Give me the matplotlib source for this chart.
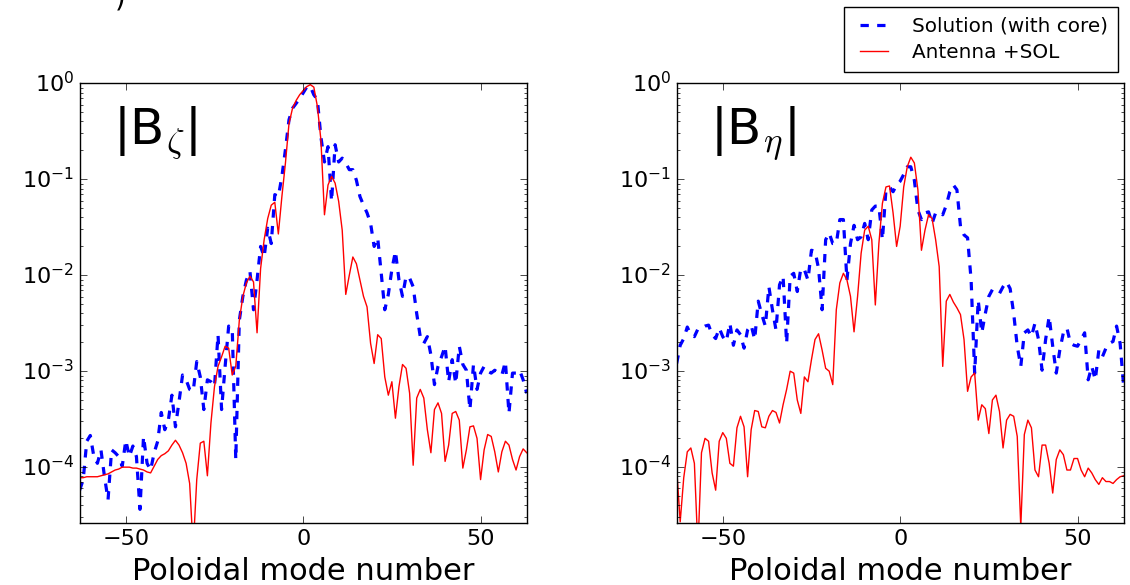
import numpy as np
import matplotlib
matplotlib.use("Agg")
import matplotlib.pyplot as plt

plt.style.use("classic")
plt.rcParams["figure.facecolor"] = "white"
plt.rcParams["savefig.facecolor"] = "white"
plt.rcParams["mathtext.fontset"] = "cm"

# Poloidal mode numbers
modes = np.arange(-63, 64)

# log10 of |B_zeta| spectrum, full solution with core
core_zeta_log = [
    -4.24, -4.13, -3.73, -3.67, -3.89, -3.96, -3.82, -4.10, -4.34, -3.82,
    -3.85, -3.89, -3.99, -3.72, -3.89, -3.78, -3.89, -4.44, -3.68, -3.96,
    -4.03, -3.85, -3.73, -3.43, -3.61, -3.51, -3.25, -3.58, -3.32, -3.04,
    -3.09, -3.19, -3.21, -2.90, -3.06, -3.40, -3.09, -3.11, -3.16, -2.62,
    -3.40, -2.95, -2.53, -2.55, -3.92, -2.47, -2.22, -2.05, -1.96, -2.36,
    -2.05, -1.70, -1.81, -1.51, -1.67, -1.16, -1.18, -0.97, -0.69, -0.38,
    -0.26, -0.21, -0.16, -0.10, -0.04, -0.03, -0.12, -0.17, -0.56, -0.82,
    -0.66, -1.23, -0.64, -0.82, -0.78, -0.83, -0.90, -0.90, -1.01, -1.18,
    -1.27, -1.35, -1.46, -1.70, -1.61, -1.98, -2.36, -2.20, -1.94, -1.75,
    -2.05, -2.22, -2.01, -2.03, -2.12, -2.40, -2.64, -2.71, -2.64, -2.83,
    -3.14, -2.95, -2.85, -2.74, -3.11, -2.88, -3.13, -2.74, -2.93, -2.99,
    -3.40, -2.93, -3.19, -3.02, -2.95, -3.00, -3.02, -2.99, -3.02, -3.04,
    -2.90, -3.44, -3.02, -3.02, -2.99, -3.09, -3.23,
]

# log10 of |B_zeta| spectrum, antenna + SOL only
ant_zeta_log = [
    -4.11, -4.11, -4.10, -4.10, -4.10, -4.10, -4.09, -4.08, -4.07, -4.05,
    -4.03, -4.02, -4.00, -4.00, -4.00, -4.01, -4.01, -4.02, -4.03, -4.05,
    -4.06, -3.99, -3.92, -3.88, -3.86, -3.83, -3.77, -3.72, -3.77, -3.85,
    -3.96, -4.17, -4.85, -4.13, -3.75, -3.73, -4.09, -3.54, -3.16, -2.95,
    -2.85, -2.74, -2.76, -3.04, -2.95, -2.47, -2.22, -2.08, -2.01, -2.07,
    -2.60, -1.93, -1.63, -1.41, -1.27, -1.24, -1.57, -1.18, -0.83, -0.42,
    -0.26, -0.18, -0.12, -0.076, -0.035, -0.014, -0.04, -0.24, -0.59, -1.37,
    -1.06, -0.97, -1.04, -1.23, -1.53, -2.20, -2.00, -1.81, -1.88, -2.05,
    -2.22, -2.33, -2.71, -2.92, -2.62, -2.66, -3.06, -3.25, -3.11, -3.49,
    -3.16, -2.93, -2.97, -3.23, -3.98, -3.28, -3.19, -3.28, -3.61, -3.85,
    -3.40, -3.33, -3.44, -3.94, -3.77, -3.44, -3.42, -3.51, -4.01, -3.82,
    -3.58, -3.57, -3.70, -4.13, -3.82, -3.66, -3.68, -3.84, -4.05, -3.84,
    -3.73, -3.77, -3.92, -4.03, -3.89, -3.81, -3.85,
]

# log10 of |B_eta| spectrum, full solution with core
core_eta_log = [
    -2.92, -2.73, -2.66, -2.54, -2.62, -2.64, -2.56, -2.55, -2.53, -2.52,
    -2.62, -2.66, -2.55, -2.64, -2.69, -2.50, -2.73, -2.57, -2.62, -2.76,
    -2.57, -2.52, -2.67, -2.27, -2.41, -2.53, -2.12, -2.36, -2.57, -2.10,
    -2.01, -2.71, -2.01, -1.98, -2.17, -1.93, -1.94, -2.05, -1.74, -1.75,
    -1.93, -2.36, -1.63, -1.56, -1.67, -1.67, -1.42, -1.42, -2.05, -1.67,
    -1.48, -1.63, -1.60, -1.46, -1.63, -1.32, -1.28, -1.28, -1.63, -1.11,
    -1.08, -1.13, -1.06, -1.02, -0.95, -0.87, -0.87, -1.01, -1.32, -1.42,
    -1.35, -1.34, -1.46, -1.35, -1.34, -1.37, -1.27, -1.13, -1.06, -1.11,
    -1.49, -1.58, -1.61, -2.05, -3.02, -2.26, -2.60, -2.40, -2.22, -2.15,
    -2.17, -2.19, -2.12, -2.07, -2.14, -2.40, -2.74, -2.95, -2.60, -2.57,
    -2.64, -2.50, -2.67, -2.99, -2.67, -2.43, -2.74, -3.02, -2.78, -2.60,
    -2.55, -2.71, -2.73, -2.74, -2.67, -2.60, -3.09, -2.95, -3.09, -2.78,
    -2.85, -2.76, -2.71, -2.69, -2.53, -2.71, -3.16,
]

# log10 of |B_eta| spectrum, antenna + SOL only
ant_eta_log = [
    -4.01, -4.57, -4.11, -3.84, -3.80, -3.96, -4.85, -3.85, -3.70, -3.73,
    -4.06, -4.24, -3.73, -3.64, -3.70, -3.96, -3.99, -3.59, -3.47, -3.58,
    -4.10, -3.61, -3.41, -3.42, -3.58, -3.59, -3.47, -3.41, -3.43, -3.54,
    -3.35, -3.19, -3.00, -3.02, -3.30, -3.44, -3.06, -3.11, -2.88, -2.67,
    -2.61, -2.78, -2.97, -3.00, -3.14, -2.36, -2.08, -1.98, -2.05, -2.22,
    -2.59, -2.22, -1.77, -1.53, -1.49, -1.63, -2.31, -1.67, -1.25, -1.08,
    -1.07, -1.35, -1.70, -1.49, -1.08, -0.87, -0.77, -0.83, -1.11, -1.74,
    -1.53, -1.37, -1.41, -1.63, -1.91, -2.95, -2.27, -2.20, -2.28, -2.34,
    -2.41, -2.67, -3.21, -3.06, -3.02, -3.51, -3.35, -3.39, -3.65, -3.30,
    -3.25, -3.42, -3.80, -3.51, -3.45, -3.47, -3.68, -4.62, -3.66, -3.51,
    -3.59, -4.03, -4.10, -3.77, -3.77, -3.96, -4.27, -3.92, -3.82, -3.87,
    -4.03, -4.03, -3.91, -3.91, -4.03, -4.10, -4.01, -4.06, -4.13, -4.18,
    -4.11, -4.15, -4.15, -4.17, -4.13, -4.10, -4.09,
]

panels = [
    (r"$\mathregular{|B}_{\zeta}\mathregular{|}$", core_zeta_log, ant_zeta_log),
    (r"$\mathregular{|B}_{\eta}\mathregular{|}$", core_eta_log, ant_eta_log),
]

fig = plt.figure(figsize=(11.3, 5.85), dpi=100)
lefts = [0.0705, 0.5988]
handles = []
for left, (title, core, ant) in zip(lefts, panels):
    ax = fig.add_axes([left, 0.1055, 0.3956, 0.7521])
    h1, = ax.plot(modes, 10.0 ** np.asarray(core), color="b", lw=2.3,
                  linestyle="--", dashes=(6, 6))
    h2, = ax.plot(modes, 10.0 ** np.asarray(ant), color="r", lw=1.0)
    handles = [h1, h2]
    ax.set_yscale("log")
    ax.set_xlim(-63, 63)
    ax.set_ylim(2.6e-5, 1.0)
    ax.set_xticks([-50, 0, 50])
    ax.tick_params(axis="both", which="major", labelsize=16, length=5)
    ax.tick_params(axis="both", which="minor", length=2.5)
    ax.set_xlabel("Poloidal mode number", fontsize=22, labelpad=6)
    ax.text(0.075, 0.86, title, transform=ax.transAxes, fontsize=36,
            ha="left", va="baseline")

fig.legend(handles, ["Solution (with core)", "Antenna +SOL"],
           loc="upper right", bbox_to_anchor=(1118 / 1130, 1 - 7 / 585),
           borderaxespad=0, fontsize=14.4,
           frameon=True, fancybox=False, edgecolor="black", framealpha=1,
           handlelength=2.0, handletextpad=0.9, borderpad=0.5,
           labelspacing=0.35)

fig.text(0.106, 1 - 12 / 585, ")", fontsize=20, ha="center", va="bottom")

fig.savefig("out.png", dpi=100)
